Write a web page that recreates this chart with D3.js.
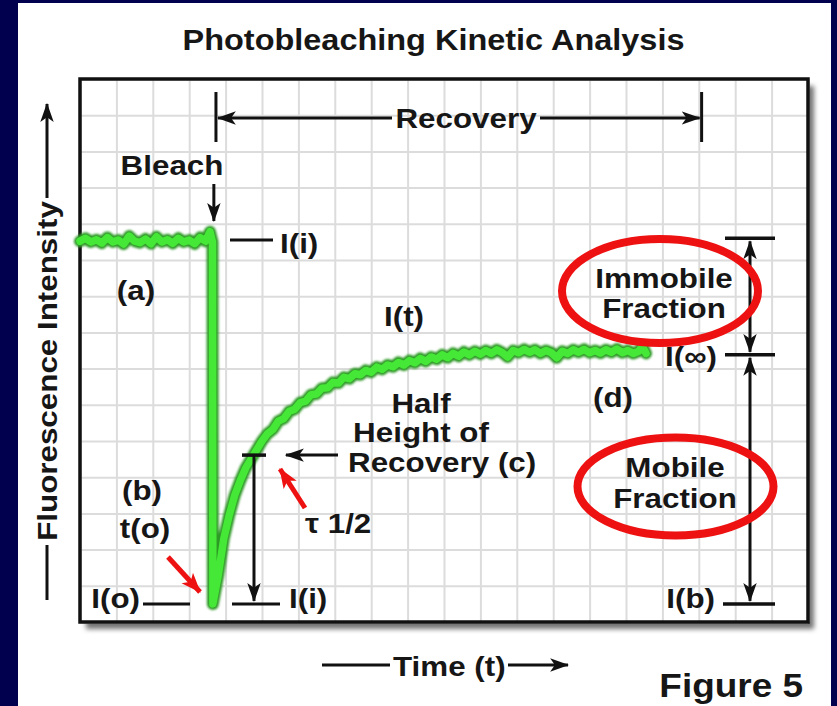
<!DOCTYPE html>
<html>
<head>
<meta charset="utf-8">
<script src="https://cdn.jsdelivr.net/npm/d3@7"></script>
<style>
  html, body { margin: 0; padding: 0; background: #00004f; }
  svg { display: block; }
  text { font-family: "Liberation Sans", Arial, Helvetica, sans-serif; font-weight: bold; fill: #161616; }
</style>
</head>
<body>
<svg id="chart" width="837" height="706"></svg>
<script>
// Grid units: time runs over 20 columns, intensity over 15 rows
const timeTicks = d3.range(0, 21);
const intensityTicks = d3.range(0, 16);

// Fluorescence trace: pre-bleach plateau, bleach drop, recovery
const traceTime = [
  0, 0.15, 0.3, 0.45, 0.6, 0.75, 0.9, 1.05, 1.2, 1.35, 1.5, 1.65, 1.8, 1.95, 2.1, 2.25,
  2.4, 2.55, 2.7, 2.85, 3.0, 3.15, 3.3, 3.45, 3.57, 3.64, 3.65,
  3.8, 3.95, 4.1, 4.25, 4.4, 4.55, 4.7, 4.85, 5.0, 5.15, 5.3, 5.45, 5.6, 5.75, 5.9,
  6.05, 6.2, 6.35, 6.5, 6.65, 6.8, 6.95, 7.1, 7.25, 7.4, 7.55, 7.7, 7.85, 8.0, 8.15,
  8.3, 8.45, 8.6, 8.75, 8.9, 9.05, 9.2, 9.35, 9.5, 9.65, 9.8, 9.95, 10.1, 10.25, 10.4,
  10.55, 10.7, 10.85, 11.0, 11.15, 11.3, 11.45, 11.6, 11.75, 11.9, 12.05, 12.2, 12.35,
  12.5, 12.65, 12.8, 12.95, 13.1, 13.25, 13.4, 13.55, 13.7, 13.85, 14.0, 14.15, 14.3,
  14.45, 14.6, 14.75, 14.9, 15.05, 15.2, 15.35, 15.45, 15.55
];
const traceIntensity = [
  10.52, 10.6, 10.5, 10.56, 10.47, 10.62, 10.5, 10.55, 10.44, 10.66, 10.52, 10.48, 10.58, 10.45, 10.64, 10.5,
  10.56, 10.46, 10.6, 10.5, 10.55, 10.45, 10.62, 10.52, 10.78, 10.5, 0.5,
  1.3, 2.3, 2.95, 3.5, 3.9, 4.25, 4.5, 4.75, 5.0, 5.2, 5.32, 5.55, 5.62, 5.82, 5.88,
  6.06, 6.1, 6.28, 6.3, 6.46, 6.47, 6.62, 6.6, 6.76, 6.72, 6.86, 6.83, 6.95, 6.9, 7.04,
  6.98, 7.1, 7.05, 7.17, 7.1, 7.22, 7.16, 7.28, 7.2, 7.32, 7.26, 7.38, 7.3, 7.42, 7.34,
  7.46, 7.38, 7.48, 7.4, 7.5, 7.42, 7.52, 7.44, 7.32, 7.5, 7.44, 7.53, 7.45,
  7.52, 7.42, 7.5, 7.44, 7.3, 7.48, 7.42, 7.52, 7.45, 7.53, 7.44, 7.5, 7.43,
  7.52, 7.45, 7.54, 7.44, 7.5, 7.42, 7.48, 7.62, 7.42
];

// Reference levels and times
const levelInitial = 10.55;    // I(i), pre-bleach intensity
const levelBleached = 0.5;     // I(o), intensity just after bleach
const levelHalf = 4.61;        // half height of recovery
const levelPlateau = 7.38;     // I(inf), recovered plateau
const levelTop = 10.6;         // top of immobile fraction bracket
const timeBleach = 3.65;
const timeHalf = 4.78;
const timeRecoveryStart = 3.9;
const timeRecoveryEnd = 17.05;

const svg = d3.select("#chart");
const W = 837, H = 706;
const SX = 1.12; // horizontal stretch of the lettering

const x = d3.scaleLinear().domain([0, 20]).range([80, 808]);
const y = d3.scaleLinear().domain([0, 15]).range([622, 79]);

const defs = svg.append("defs");
defs.append("filter").attr("id", "shadow")
  .attr("x", "-5%").attr("y", "-5%").attr("width", "115%").attr("height", "115%")
  .append("feDropShadow")
  .attr("dx", 6).attr("dy", 7).attr("stdDeviation", 2.5)
  .attr("flood-color", "#000").attr("flood-opacity", 0.55);
defs.append("filter").attr("id", "soft")
  .append("feGaussianBlur").attr("stdDeviation", 0.8);

function marker(id, color, len, half) {
  defs.append("marker").attr("id", id)
    .attr("markerUnits", "userSpaceOnUse")
    .attr("markerWidth", len + 2).attr("markerHeight", half * 2 + 2)
    .attr("viewBox", `0 0 ${len} ${half * 2}`)
    .attr("refX", len - 1).attr("refY", half)
    .attr("orient", "auto-start-reverse")
    .append("path")
    .attr("d", `M0,0 L${len},${half} L0,${half * 2} L${len * 0.25},${half} Z`)
    .attr("fill", color);
}
marker("ah", "#111", 17, 6);
marker("ahRed", "#ee1111", 18, 7);

// Page background
svg.append("rect").attr("width", W).attr("height", H).attr("fill", "#00004f");
svg.append("rect").attr("x", 18).attr("y", 3).attr("width", 813).attr("height", H - 3).attr("fill", "#fff");

// Plot panel with shadow
const [x0, x1] = x.range();
const [yb, yt] = y.range();
svg.append("rect").attr("x", x0).attr("y", yt).attr("width", x1 - x0).attr("height", yb - yt)
  .attr("fill", "#fff").attr("filter", "url(#shadow)");

// Grid from the library's axes
const gridV = svg.append("g").attr("transform", `translate(0,${yb})`)
  .call(d3.axisBottom(x).tickValues(timeTicks).tickSize(-(yb - yt)).tickFormat(""));
const gridH = svg.append("g").attr("transform", `translate(${x0},0)`)
  .call(d3.axisLeft(y).tickValues(intensityTicks).tickSize(-(x1 - x0)).tickFormat(""));
[gridV, gridH].forEach(g => {
  g.select(".domain").remove();
  g.selectAll("line").attr("stroke", "#dcdcdc").attr("stroke-width", 2);
});

svg.append("rect").attr("x", x0).attr("y", yt).attr("width", x1 - x0).attr("height", yb - yt)
  .attr("fill", "none").attr("stroke", "#111").attr("stroke-width", 3.5);

// Text helper
function label(px, py, str, opts = {}) {
  const size = opts.size || 28;
  const rot = opts.rotate || 0;
  return svg.append("text")
    .attr("transform", `translate(${px},${py}) rotate(${rot}) scale(${SX},1)`)
    .attr("font-size", size)
    .attr("text-anchor", opts.anchor || "start")
    .text(str);
}
function seg(xa, ya, xb, yb2, opts = {}) {
  const l = svg.append("line")
    .attr("x1", xa).attr("y1", ya).attr("x2", xb).attr("y2", yb2)
    .attr("stroke", opts.color || "#111").attr("stroke-width", opts.width || 3);
  if (opts.end) l.attr("marker-end", `url(#${opts.end})`);
  if (opts.start) l.attr("marker-start", `url(#${opts.start})`);
  return l;
}

// Title
label(W / 2 + 15, 50, "Photobleaching Kinetic Analysis", { size: 29, anchor: "middle" });

// Vertical axis title with arrow
label(57, 371, "Fluorescence Intensity", { rotate: -90, anchor: "middle" });
seg(47, 198, 47, 104, { end: "ah", width: 3 });
seg(47, 545, 47, 600, { width: 3 });

// Horizontal axis title with arrow
seg(322, 665, 390, 665, { width: 3 });
label(393, 676, "Time (t)");
seg(508, 665, 568, 665, { end: "ah", width: 3 });

label(803, 697, "Figure 5", { size: 33, anchor: "end" });

// Recovery bracket
const rx0 = x(timeRecoveryStart) - 6, rx1 = x(timeRecoveryEnd) + 1;
seg(rx0, 92, rx0, 142, { width: 3 });
seg(rx1, 92, rx1, 142, { width: 3 });
seg(392, 118, rx0 + 2, 118, { end: "ah", width: 3 });
seg(540, 118, rx1 - 2, 118, { end: "ah", width: 3 });
label(466, 128, "Recovery", { anchor: "middle" });

// Bleach marker
label(172, 175, "Bleach", { anchor: "middle" });
seg(x(timeBleach) + 1, 184, x(timeBleach) + 1, 221, { end: "ah", width: 3 });

// Fluorescence trace
const line = d3.line().x(i => x(traceTime[i])).y(i => y(traceIntensity[i]));
const idx = d3.range(traceTime.length);
svg.append("path").attr("d", line(idx)).attr("fill", "none")
  .attr("stroke", "#2f9a28").attr("stroke-width", 12)
  .attr("stroke-linejoin", "round").attr("stroke-linecap", "round")
  .attr("filter", "url(#soft)");
svg.append("path").attr("d", line(idx)).attr("fill", "none")
  .attr("stroke", "#45e836").attr("stroke-width", 7.5)
  .attr("stroke-linejoin", "round").attr("stroke-linecap", "round");

// Level labels on the left part
seg(230, y(levelInitial), 273, y(levelInitial), { width: 3 });
label(280, 253, "I(i)");
label(136, 300, "(a)", { anchor: "middle" });
label(404, 326, "I(t)", { anchor: "middle" });

label(142, 500, "(b)", { anchor: "middle" });
label(145, 538, "t(o)", { anchor: "middle" });
label(140, 608, "I(o)", { anchor: "end" });
seg(143, y(levelBleached), 190, y(levelBleached), { width: 3 });
seg(168, 557, 200, 592, { color: "#ee1111", width: 5, end: "ahRed" });

// Half height of recovery
const hx = x(timeHalf);
seg(hx - 12, y(levelHalf), hx + 12, y(levelHalf), { width: 3.5 });
seg(hx, y(levelHalf), hx, y(levelBleached) - 3, { width: 3, end: "ah" });
seg(232, y(levelBleached), 280, y(levelBleached), { width: 3 });
label(289, 608, "I(i)");
seg(338, y(levelHalf), 286, y(levelHalf), { width: 3, end: "ah" });
label(421, 413, "Half", { anchor: "middle" });
label(421, 442, "Height of", { anchor: "middle" });
label(348, 472, "Recovery (c)");
seg(305, 508, 280, 469, { color: "#ee1111", width: 5, end: "ahRed" });
label(305, 533, "τ 1/2");

// Right side: immobile and mobile fractions
const bx = 750;
seg(725, y(levelTop), 775, y(levelTop), { width: 3.5 });
seg(725, y(levelPlateau), 775, y(levelPlateau), { width: 3.5 });
seg(723, y(levelBleached), 775, y(levelBleached), { width: 3.5 });
seg(bx, y(levelTop) + 3, bx, y(levelPlateau) - 3, { width: 3, start: "ah", end: "ah" });
seg(bx, y(levelPlateau) + 3, bx, y(levelBleached) - 3, { width: 3, start: "ah", end: "ah" });
label(717, 366, "I(∞)", { anchor: "end" });
label(715, 608, "I(b)", { anchor: "end" });
label(613, 407, "(d)", { anchor: "middle" });

label(664, 288, "Immobile", { anchor: "middle" });
label(664, 318, "Fraction", { anchor: "middle" });
label(675, 477, "Mobile", { anchor: "middle" });
label(675, 508, "Fraction", { anchor: "middle" });

svg.append("ellipse").attr("cx", 660).attr("cy", 291).attr("rx", 98).attr("ry", 52)
  .attr("fill", "none").attr("stroke", "#ee1111").attr("stroke-width", 8);
svg.append("ellipse").attr("cx", 675.5).attr("cy", 486.5).attr("rx", 98).attr("ry", 49)
  .attr("fill", "none").attr("stroke", "#ee1111").attr("stroke-width", 8);
</script>
</body>
</html>
